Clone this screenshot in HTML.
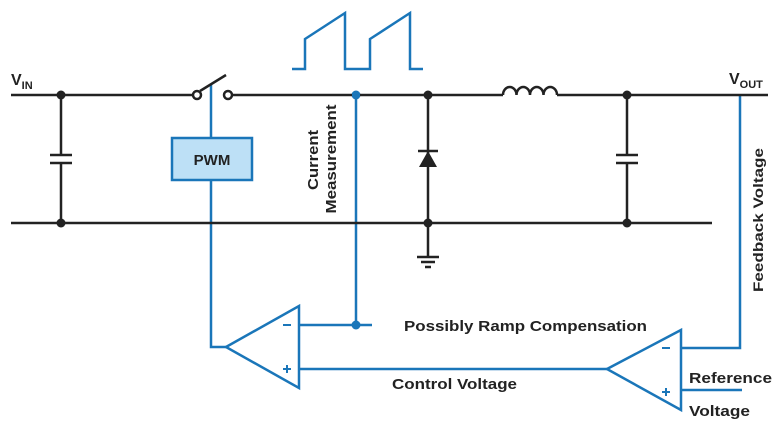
<!DOCTYPE html>
<html><head><meta charset="utf-8"><style>
html,body{margin:0;padding:0;background:#fff;}
svg{display:block;font-family:"Liberation Sans",sans-serif;font-weight:bold;}
</style></head><body>
<svg width="779" height="427" viewBox="0 0 779 427" xmlns="http://www.w3.org/2000/svg">
<g stroke="#1a76b9" stroke-width="2.5" fill="none">
<polyline points="292,69 305,69 305,39 345,13 345,69 370,69 370,39 410,13 410,69 423,69"/>
<line x1="211" y1="85" x2="211" y2="138"/>
<polyline points="211,180 211,347 226,347"/>
<line x1="356" y1="95" x2="356" y2="325"/>
<line x1="299" y1="325" x2="372" y2="325"/>
<polygon points="226,347 299,306 299,388"/>
<line x1="299" y1="369" x2="607" y2="369"/>
<polygon points="607,369 681,330 681,410"/>
<polyline points="740,95 740,348 681,348"/>
<line x1="681" y1="390" x2="742" y2="390"/>
<rect x="172" y="138" width="80" height="42" fill="#bde0f6"/>
</g>
<circle cx="356" cy="95" r="4.5" fill="#1a76b9"/>
<circle cx="356" cy="325" r="4.5" fill="#1a76b9"/>
<g stroke="#1a76b9" stroke-width="2">
<line x1="283" y1="325" x2="291" y2="325"/>
<line x1="283" y1="369" x2="291" y2="369"/><line x1="287" y1="365" x2="287" y2="373"/>
<line x1="662" y1="348" x2="670" y2="348"/>
<line x1="662" y1="392" x2="670" y2="392"/><line x1="666" y1="388" x2="666" y2="396"/>
</g>
<g stroke="#222" stroke-width="2.5" fill="none">
<line x1="11" y1="95" x2="193" y2="95"/>
<line x1="231" y1="95" x2="352" y2="95"/>
<line x1="360" y1="95" x2="503" y2="95"/>
<path d="M503,95 a6.75,8 0 0 1 13.5,0 a6.75,8 0 0 1 13.5,0 a6.75,8 0 0 1 13.5,0 a6.75,8 0 0 1 13.5,0"/>
<line x1="557" y1="95" x2="768" y2="95"/>
<line x1="11" y1="223" x2="712" y2="223"/>
<circle cx="197" cy="95" r="4" fill="#fff"/>
<circle cx="228" cy="95" r="4" fill="#fff"/>
<line x1="200" y1="91" x2="226" y2="75"/>
<line x1="61" y1="95" x2="61" y2="155"/><line x1="61" y1="163" x2="61" y2="223"/>
<line x1="50" y1="155" x2="72" y2="155"/><line x1="50" y1="163" x2="72" y2="163"/>
<line x1="627" y1="95" x2="627" y2="155"/><line x1="627" y1="163" x2="627" y2="223"/>
<line x1="616" y1="155" x2="638" y2="155"/><line x1="616" y1="163" x2="638" y2="163"/>
<line x1="428" y1="95" x2="428" y2="257"/>
<line x1="418" y1="151" x2="438" y2="151"/>
<line x1="417" y1="257" x2="439" y2="257"/>
<line x1="421" y1="262" x2="435" y2="262"/>
<line x1="425" y1="267" x2="431" y2="267"/>
</g>
<polygon points="428,151 419,167 437,167" fill="#222"/>
<g fill="#222">
<circle cx="61" cy="95" r="4.5"/><circle cx="61" cy="223" r="4.5"/>
<circle cx="428" cy="95" r="4.5"/><circle cx="428" cy="223" r="4.5"/>
<circle cx="627" cy="95" r="4.5"/><circle cx="627" cy="223" r="4.5"/>
</g>
<g fill="#222" font-size="15">
<text x="11" y="85" font-size="16">V<tspan font-size="11" dy="4">IN</tspan></text>
<text x="729" y="84" font-size="16">V<tspan font-size="11" dy="4">OUT</tspan></text>
<text x="212" y="165" text-anchor="middle" font-size="15">PWM</text>
<text transform="translate(318,160) rotate(-90)" text-anchor="middle" font-size="15" textLength="60" lengthAdjust="spacingAndGlyphs">Current</text>
<text transform="translate(336,159) rotate(-90)" text-anchor="middle" font-size="15" textLength="109" lengthAdjust="spacingAndGlyphs">Measurement</text>
<text transform="translate(763,220) rotate(-90)" text-anchor="middle" font-size="14" textLength="144" lengthAdjust="spacingAndGlyphs">Feedback Voltage</text>
<text x="404" y="331" font-size="15" textLength="243" lengthAdjust="spacingAndGlyphs">Possibly Ramp Compensation</text>
<text x="392" y="389" font-size="15" textLength="125" lengthAdjust="spacingAndGlyphs">Control Voltage</text>
<text x="689" y="383" font-size="15" textLength="83" lengthAdjust="spacingAndGlyphs">Reference</text>
<text x="689" y="416" font-size="15" textLength="61" lengthAdjust="spacingAndGlyphs">Voltage</text>
</g>
</svg>
</body></html>
